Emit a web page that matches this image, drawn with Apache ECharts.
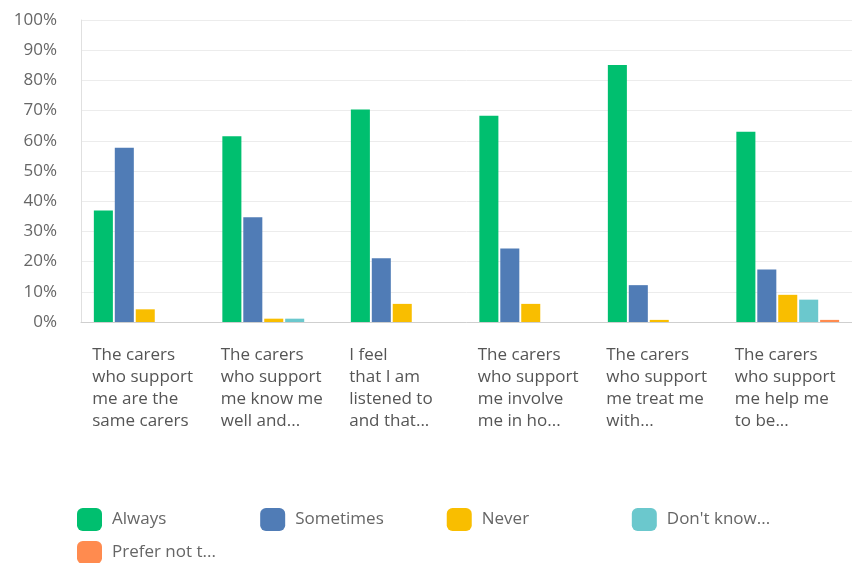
<!DOCTYPE html>
<html>
<head>
<meta charset="utf-8">
<script src="https://cdn.jsdelivr.net/npm/echarts@6/dist/echarts.min.js"></script>
<style>
  html, body { margin: 0; padding: 0; background: #ffffff; }
  #chart { width: 852px; height: 563px; }
</style>
</head>
<body>
<div id="chart"></div>
<script>
// Question labels, as shown under each group (wrapped and shortened)
const categories = [
  'The carers\nwho support\nme are the\nsame carers',
  'The carers\nwho support\nme know me\nwell and...',
  'I feel\nthat I am\nlistened to\nand that...',
  'The carers\nwho support\nme involve\nme in ho...',
  'The carers\nwho support\nme treat me\nwith...',
  'The carers\nwho support\nme help me\nto be...'
];

// Answer options
const seriesNames = ['Always', 'Sometimes', 'Never', "Don't know...", 'Prefer not t...'];
const seriesColors = ['#00bf6f', '#507cb6', '#f9be00', '#6bc8cd', '#ff8b4f'];

// Share of responses per question (%)
const always     = [36.9, 61.5, 70.4, 68.3, 85.1, 63.0];
const sometimes  = [57.7, 34.7, 21.1, 24.3, 12.2, 17.4];
const never      = [4.2, 1.1, 6.0, 6.0, 0.7, 9.0];
const dontKnow   = [0, 1.1, 0, 0, 0, 7.4];
const preferNot  = [0, 0, 0, 0, 0, 0.7];

// Y axis ticks
const yMin = 0, yMax = 100, yStep = 10;

const seriesValues = [always, sometimes, never, dontKnow, preferNot];

// Legend entries are padded with non-breaking spaces to a common width
// so that they line up in columns
const LEGEND_FONT = '17px "Open Sans"';
const LEGEND_SLOT = 142;
const measureCtx = document.createElement('canvas').getContext('2d');
measureCtx.font = LEGEND_FONT;
function padName(name) {
  let s = name;
  while (measureCtx.measureText(s + '\u00a0').width <= LEGEND_SLOT) s += '\u00a0';
  return s;
}

const chart = echarts.init(document.getElementById('chart'), null, { renderer: 'canvas' });

const option = {
  animation: false,
  backgroundColor: '#ffffff',
  color: seriesColors,
  grid: { left: 81, top: 20, width: 771, bottom: 241, containLabel: false },
  legend: {
    left: 77,
    top: 508,
    width: 760,
    padding: 0,
    itemWidth: 25,
    itemHeight: 23,
    itemGap: 10,
    icon: 'roundRect',
    itemStyle: { borderRadius: 4 },
    formatter: function (name) { return '{n|' + padName(name) + '}'; },
    textStyle: {
      rich: {
        n: {
          fontFamily: 'Open Sans',
          fontSize: 17,
          color: '#666',
          padding: [0, 0, 0, 5]
        }
      }
    },
    data: seriesNames
  },
  xAxis: {
    type: 'category',
    data: categories,
    axisLine: { show: true, lineStyle: { color: '#cfcfcf', width: 1 } },
    axisTick: { show: false },
    axisLabel: {
      interval: 0,
      margin: 22,
      formatter: function (v) {
        return v.split('\n').map(function (s) { return '{t|' + s + '}'; }).join('\n');
      },
      rich: {
        t: {
          width: 106,
          align: 'left',
          fontFamily: 'Open Sans',
          fontSize: 17,
          lineHeight: 22,
          color: '#555'
        }
      }
    }
  },
  yAxis: {
    type: 'value',
    min: yMin,
    max: yMax,
    interval: yStep,
    axisLine: { show: true, lineStyle: { color: '#e0e0e0' } },
    axisTick: { show: false },
    splitLine: { show: true, lineStyle: { color: '#ececec', width: 1 } },
    axisLabel: {
      margin: 24,
      formatter: '{value}%',
      fontFamily: 'Open Sans',
      fontSize: 17,
      color: '#666'
    }
  },
  series: seriesNames.map(function (name, i) {
    return {
      name: name,
      type: 'bar',
      data: seriesValues[i],
      barGap: '10%',
      barCategoryGap: '20%',
      itemStyle: { color: seriesColors[i] }
    };
  })
};

chart.setOption(option);
</script>
</body>
</html>
